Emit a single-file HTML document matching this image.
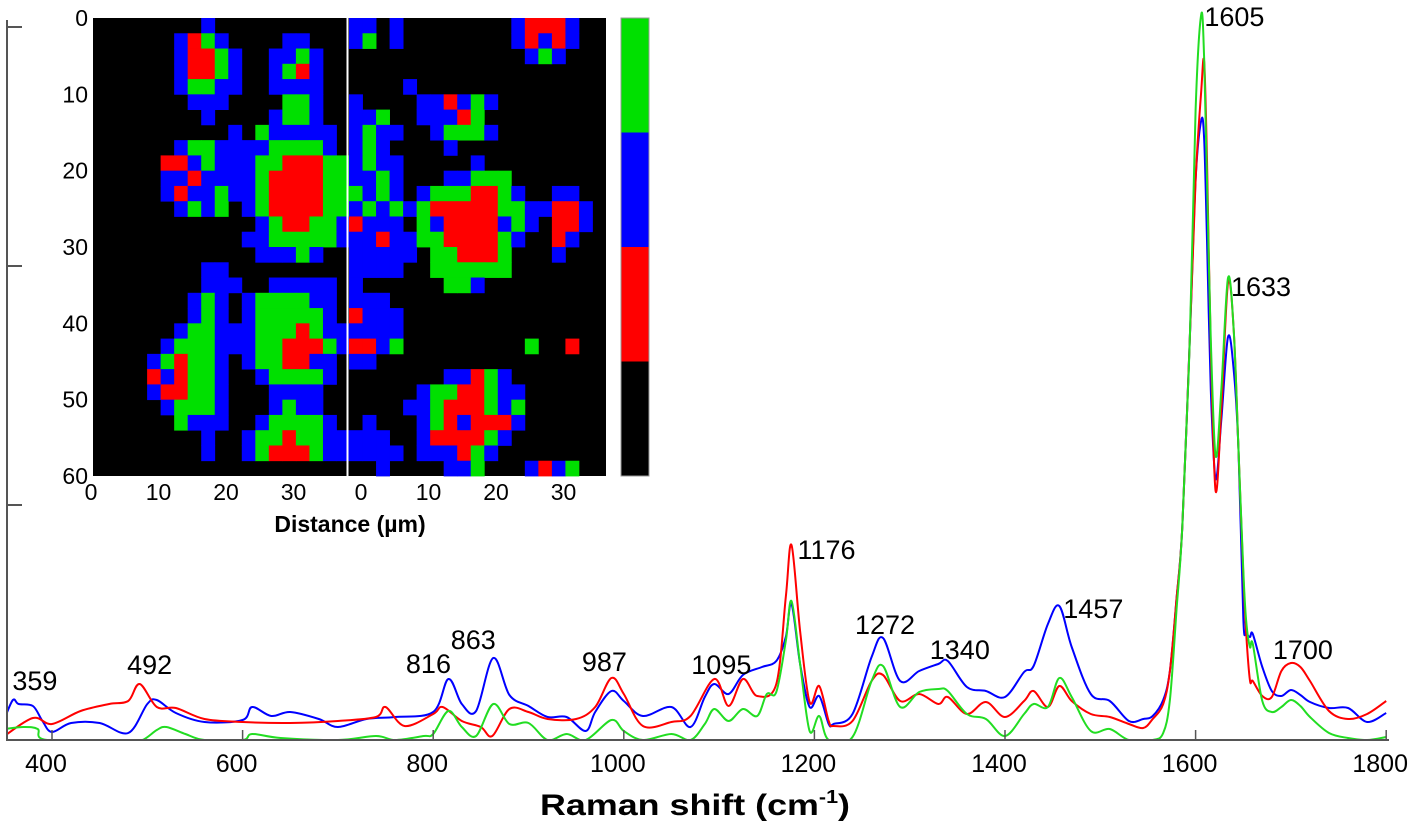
<!DOCTYPE html>
<html><head><meta charset="utf-8"><title>Raman spectra with cluster map</title>
<style>
html,body{margin:0;padding:0;background:#fff;}
svg{display:block;font-family:"Liberation Sans",Arial,sans-serif;}
</style></head>
<body>
<svg id="chart" width="1417" height="831" viewBox="0 0 1417 831" xmlns="http://www.w3.org/2000/svg">
  <rect x="0" y="0" width="1417" height="831" fill="#fff"/>
  <g id="heatmap"></g>
  <g id="inset-axes"></g>
  <g id="series"></g>
  <g id="axes"></g>
  <g id="labels"></g>
</svg>
<script>
// ---- Spectra data (a.u.) ----
const blueShift = [350,359,365,380,390,400,420,450,480,500,510,530,560,600,610,630,650,680,700,730,760,800,816,830,845,863,880,900,920,940,960,970,987,1000,1020,1050,1070,1085,1095,1110,1125,1145,1160,1170,1176,1185,1195,1205,1215,1220,1240,1260,1272,1290,1310,1330,1340,1360,1380,1400,1420,1430,1445,1457,1470,1490,1510,1530,1545,1555,1566,1573,1580,1586,1594,1600,1606,1609,1612,1616,1621,1627,1634,1640,1645,1650,1653,1657,1660,1670,1680,1690,1700,1710,1720,1740,1760,1780,1800];
const blueVal = [21,40,36,34,19,8,17,17,7,36,40,27,18,20,33,24,28,21,13,21,23,28,61,36,29,82,45,34,23,23,9,28,49,39,24,33,13,43,56,46,65,73,79,103,136,76,33,44,16,16,26,83,102,59,69,76,79,53,49,43,68,74,116,134,93,46,39,19,21,24,40,69,141,213,404,560,620,600,500,350,261,320,403,370,290,122,108,103,106,73,49,44,50,45,38,32,32,18,27];
const redShift = [350,380,400,430,460,480,492,510,530,560,600,650,700,740,750,770,800,810,830,850,862,880,900,920,950,970,987,1000,1020,1050,1070,1095,1110,1125,1140,1160,1170,1176,1185,1195,1205,1215,1220,1240,1260,1272,1290,1310,1330,1340,1360,1380,1400,1420,1430,1445,1457,1470,1490,1510,1530,1545,1555,1566,1573,1580,1586,1594,1600,1606,1609,1612,1616,1621,1627,1634,1640,1645,1650,1653,1657,1660,1670,1680,1690,1700,1710,1720,1740,1760,1780,1800];
const redVal = [4,22,16,29,36,39,56,33,32,21,18,17,19,23,33,14,26,33,19,13,4,31,28,21,21,33,62,46,14,18,24,61,34,61,44,56,143,195,109,38,54,19,14,19,59,65,39,46,36,43,26,38,23,39,49,33,54,39,26,23,16,12,21,36,69,141,213,404,560,650,678,580,390,249,330,457,410,290,165,108,60,59,44,43,69,77,73,59,29,21,26,39];
const greenShift = [350,370,385,395,480,495,510,520,540,560,600,610,640,700,740,760,790,800,816,830,845,863,880,900,920,940,960,987,1000,1020,1050,1070,1085,1095,1110,1125,1140,1150,1160,1170,1176,1185,1195,1205,1215,1240,1260,1272,1290,1310,1330,1340,1360,1380,1400,1420,1430,1445,1457,1470,1490,1510,1530,1555,1566,1573,1580,1586,1594,1600,1606,1609,1612,1616,1621,1627,1634,1640,1645,1650,1653,1657,1660,1670,1680,1690,1700,1710,1720,1740,1760,1780,1800];
const greenVal = [11,13,11,0,0,0,10,13,6,0,0,6,2,0,4,0,4,6,29,13,4,36,16,17,0,6,0,20,9,0,6,0,16,31,19,31,24,46,48,99,139,76,9,24,0,3,59,74,33,48,51,49,26,21,4,26,36,33,62,43,9,11,0,0,7,40,130,213,404,630,726,680,560,400,284,350,462,410,290,170,120,93,96,39,28,33,40,34,23,7,2,0,3];
const xTickValues = [400,600,800,1000,1200,1400,1600,1800];
const yTickValues = [235,474,713];
const peakLabels = ["359","492","816","863","987","1095","1176","1272","1340","1457","1605","1633","1700"];
const peakShift = [359,492,816,863,987,1095,1176,1272,1340,1457,1605,1633,1700];
const peakLabelHeight = [50,66,67,91,69,66,181,106,81,122,714,444,81];
const peakLabelDx = [22,10,-20,-20,-7,7,35,2,12,34,34,34,12];

// ---- Cluster map data (k=black, r=red, b=blue, g=green); 2 µm cells ----
const mapLeft = [
"kkkkkkkkbkkkkkkkkkk","kkkkkkbrgbkkkkbbkkk","kkkkkkbrrgbkkbbgbkk","kkkkkkbrrgbkkbgrbkk","kkkkkkbggbbkkbbbbkk",
"kkkkkkkbbbkkkkggbkk","kkkkkkkkbkkkkbggbkk","kkkkkkkkkkbkgbbbbbk","kkkkkkbggbbbbggggbk","kkkkkrrbgbbbggrrrgg",
"kkkkkbbrbbbbgrrrrgg","kkkkkbrbbgbbgrrrrgg","kkkkkkbgbgkbgrrrrgg","kkkkkkkkkkkkbgrrggb","kkkkkkkkkkkbbgggggb",
"kkkkkkkkkkkkbbbgbkk","kkkkkkkkbbkkkkkkkkk","kkkkkkkkbbbkkbbbbbk","kkkkkkkbgbkbggggbbk","kkkkkkkbgbkbgggggbk",
"kkkkkkbggbbbgggrgbb","kkkkkbgggbbbggrrrgb","kkkkbgrggbkbggrrbbk","kkkkrbrggbkkbggggbk","kkkkbrrggbkkkbbbbkk",
"kkkkkbgggbkkkbgbbkk","kkkkkkgbbbkkbggggbk","kkkkkkkkbkkbggrggbb","kkkkkkkkbkkbgrrrgbb","kkkkkkkkkkkkkkkkkkk"];
const mapRight = [
"bbkbkkkkkkkkbrrrbkk","bgkbkkkkkkkkbrbrbkk","kkkkkkkkkkkkkbgbkkk","kkkkkkkkkkkkkkkkkkk","kkkkbkkkkkkkkkkkkkk",
"bkkkkbbrbgbkkkkkkkk","bbgkkbbbrgkkkkkkkkk","bgbbkkbgggbkkkkkkkk","bgbkkkkbkkkkkkkkkkk","bgbbkkkkkbkkkkkkkkk",
"bbgbkkkbbgggkkkkkkk","gbgbkbgggrrgbkkbbkk","bgbgbgrrrrrggbbrrbk","rbbbkgbrrrrbgbkrrbk","bbrbbggrrrrgbkkrbkk",
"bbbbbkggrrrgkkkbkkk","bbbbkkggggggkkkkkkk","bkkkkkkggbkkkkkkkkk","bbbkkkkkkkkkkkkkkkk","rbbbkkkkkkkkkkkkkkk",
"bbbbkkkkkkkkkkkkkkk","rrbgkkkkkkkkkgkkrkk","bbkkkkkkkkkkkkkkkkk","kkkkkkkbbrgbkkkkkkk","kkkkkbggrrgbbkkkkkk",
"kkkkbbgrrrgbgkkkkkk","kbkkkbgrbrrrbkkkkkk","bbbkkbrrrrgbkkkkkkk","bbbbkbbbrgbkkkkkkkk","kkbkkkkbbgkkkbrbgkk"];
const mapYTicks = [0,10,20,30,40,50,60];
const mapXTicks = [0,10,20,30];
const colorbarOrder = ["g","b","r","k"];

const NS = "http://www.w3.org/2000/svg";
const colors = {k:"#000000", r:"#ff0000", b:"#0000ff", g:"#00e000"};
function mk(tag, attrs, parent){ const e=document.createElementNS(NS,tag); for(const k in attrs) e.setAttribute(k,attrs[k]); parent.appendChild(e); return e; }

const X0=52, XK=0.953, BASE=740, YK=1.0;
function xs(v){ return X0+(v-400)*XK; }
function ys(v){ return BASE-v*YK; }

// series (smoothed with Catmull-Rom through read points)
const sg=document.getElementById('series');
const clip=mk('clipPath',{id:'plotclip'},sg);
mk('rect',{x:7,y:0,width:1385,height:739},clip);
function drawSeries(sh, vals, col, name){
  const pts=sh.map((s,i)=>[xs(s),ys(vals[i])]);
  let d="M"+pts[0][0].toFixed(1)+","+pts[0][1].toFixed(1);
  for(let i=0;i<pts.length-1;i++){
    const p0=pts[Math.max(0,i-1)], p1=pts[i], p2=pts[i+1], p3=pts[Math.min(pts.length-1,i+2)];
    const c1=[p1[0]+(p2[0]-p0[0])/6, p1[1]+(p2[1]-p0[1])/6];
    const c2=[p2[0]-(p3[0]-p1[0])/6, p2[1]-(p3[1]-p1[1])/6];
    d+="C"+c1[0].toFixed(1)+","+c1[1].toFixed(1)+" "+c2[0].toFixed(1)+","+c2[1].toFixed(1)+" "+p2[0].toFixed(1)+","+p2[1].toFixed(1);
  }
  const p=mk('path',{d:d,fill:"none",stroke:col,"stroke-width":2,"stroke-linejoin":"round","clip-path":"url(#plotclip)"},sg);
  
  
}
drawSeries(blueShift, blueVal, "#0000ff", "blue-spectrum");
drawSeries(redShift, redVal, "#ff0000", "red-spectrum");
drawSeries(greenShift, greenVal, "#22dd22", "green-spectrum");

// axes
const ax=document.getElementById('axes');
const axc="#555";
let a=mk('line',{x1:7,y1:20,x2:7,y2:740,stroke:axc,"stroke-width":2},ax);
 
a=mk('line',{x1:6,y1:740,x2:1389,y2:740,stroke:axc,"stroke-width":2},ax);
 
yTickValues.forEach(v=>{
  const t=mk('line',{x1:7,y1:ys(v),x2:22,y2:ys(v),stroke:axc,"stroke-width":2},ax);
   
});
xTickValues.forEach(v=>{
  const t=mk('line',{x1:xs(v),y1:740,x2:xs(v),y2:730,stroke:axc,"stroke-width":1.5},ax);
   
  const l=mk('text',{x:xs(v)-6,y:772,"font-size":25,"text-anchor":"middle",fill:"#000"},ax);
  l.textContent=v;
   
});
const tt=mk('text',{x:695,y:815,"font-size":30,"font-weight":"bold","text-anchor":"middle",textLength:310,lengthAdjust:"spacingAndGlyphs"},ax);
tt.innerHTML='Raman shift (cm<tspan font-size="18" dy="-12">-1</tspan><tspan dy="12">)</tspan>';
 

// peak labels
const lg=document.getElementById('labels');
peakLabels.forEach((s,i)=>{
  const t=mk('text',{x:xs(peakShift[i])+peakLabelDx[i],y:ys(peakLabelHeight[i]),"font-size":27,"text-anchor":"middle",fill:"#000"},lg);
  t.textContent=s;
   
});

// heatmap
const hm=document.getElementById('heatmap');
const PX=[93,349], PW=257, PY=18, PH=458;
[mapLeft,mapRight].forEach((m,pi)=>{
  const g=mk('g',{},hm);
  
  
  mk('rect',{x:PX[pi],y:PY,width:PW,height:PH,fill:"#000"},g);
  const rows=m.length, cols=m[0].length, cw=PW/cols, ch=PH/rows;
  for(let r=0;r<rows;r++) for(let c=0;c<cols;c++){
    const k=m[r][c]; if(k==='k') continue;
    const cell=mk('rect',{x:(PX[pi]+c*cw).toFixed(2),y:(PY+r*ch).toFixed(2),width:(cw+0.4).toFixed(2),height:(ch+0.4).toFixed(2),fill:colors[k]},g);
    
    
  }
});
mk('line',{x1:347.5,y1:PY,x2:347.5,y2:PY+PH,stroke:"#fff","stroke-width":2},hm);
const cb=mk('g',{},hm);
 
colorbarOrder.forEach((k,i)=>{
  const s=mk('rect',{x:621,y:PY+i*PH/4,width:28,height:PH/4,fill:colors[k]},cb);
   
});
mk('rect',{x:621,y:PY,width:28,height:PH,fill:"none",stroke:"#999","stroke-width":1},cb);

// inset axes labels
const ia=document.getElementById('inset-axes');
mapYTicks.forEach(v=>{
  const y=PY+v/60*PH;
  const t=mk('text',{x:88,y:y+8,"font-size":23,"text-anchor":"end"},ia);
  t.textContent=v;
   
});
const xOrig=[91,361], xk=6.75;
xOrig.forEach((o,pi)=>{
  mapXTicks.forEach(v=>{
    const t=mk('text',{x:o+v*xk,y:500,"font-size":23,"text-anchor":"middle"},ia);
    t.textContent=v;
     
  });
});
const dl=mk('text',{x:350,y:532,"font-size":23,"font-weight":"bold","text-anchor":"middle"},ia);
dl.textContent="Distance (\u00b5m)";
 
</script>
</body></html>
